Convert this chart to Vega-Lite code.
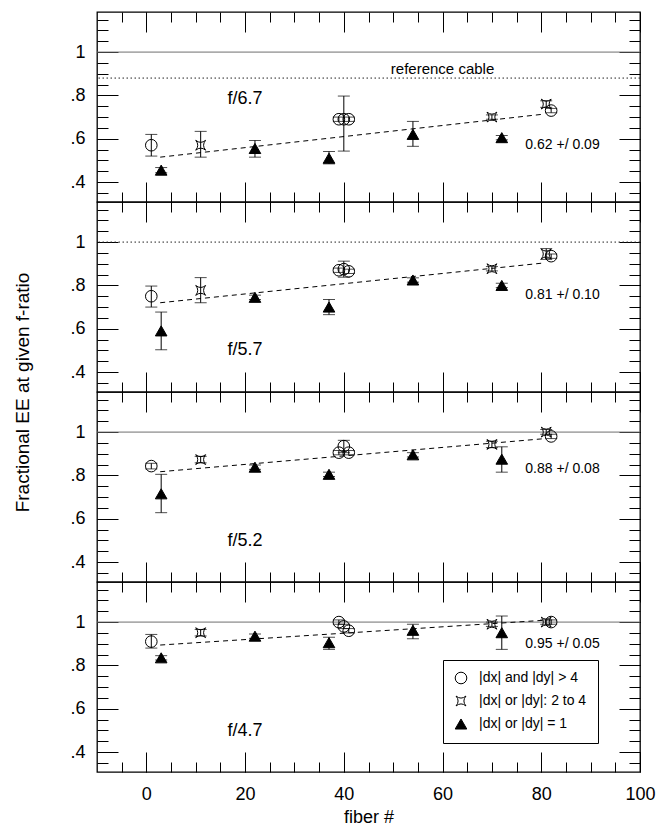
{
"$schema": "https://vega.github.io/schema/vega-lite/v6.json",
"background": "white",
"padding": {"left": 12, "top": 10, "right": 5, "bottom": 5},
"bounds": "flush",
"spacing": 0,
"config": {
  "font": "Liberation Sans",
  "view": {"stroke": "black", "strokeWidth": 1.3},
  "axis": {"domain": false, "grid": false, "tickColor": "black", "tickWidth": 1, "labelColor": "black", "labelFont": "Liberation Sans", "labelFontSize": 18, "titleFont": "Liberation Sans", "titleFontSize": 18, "titleFontWeight": "normal", "titleColor": "black", "labelFlush": false}
},
"resolve": {"scale": {"shape": "independent", "fill": "independent", "stroke": "independent", "strokeDash": "independent", "color": "independent"}},
"datasets": {
  "refs": [
    {"panel": 1, "frac": 1.0, "line": "unity"},
    {"panel": 1, "frac": 0.88, "line": "reference"},
    {"panel": 2, "frac": 1.0, "line": "reference"},
    {"panel": 3, "frac": 1.0, "line": "unity"},
    {"panel": 4, "frac": 1.0, "line": "unity"}
  ],
  "fits": [
    {"panel": 1, "fiber": 2.8, "frac": 0.515}, {"panel": 1, "fiber": 80.3, "frac": 0.713},
    {"panel": 2, "fiber": 2.8, "frac": 0.72}, {"panel": 2, "fiber": 80.3, "frac": 0.903},
    {"panel": 3, "fiber": 2.8, "frac": 0.817}, {"panel": 3, "fiber": 80.3, "frac": 0.969},
    {"panel": 4, "fiber": 2.8, "frac": 0.894}, {"panel": 4, "fiber": 80.3, "frac": 1.008}
  ],
  "notes": [
    {"panel": 1, "fiber": 20, "frac": 0.785, "label": "f/6.7", "kind": "fratio"},
    {"panel": 1, "fiber": 84.3, "frac": 0.571, "label": "0.62 +/ 0.09", "kind": "fit"},
    {"panel": 1, "fiber": 60, "frac": 0.923, "label": "reference cable", "kind": "ref"},
    {"panel": 2, "fiber": 20, "frac": 0.5, "label": "f/5.7", "kind": "fratio"},
    {"panel": 2, "fiber": 84.3, "frac": 0.754, "label": "0.81 +/ 0.10", "kind": "fit"},
    {"panel": 3, "fiber": 20, "frac": 0.497, "label": "f/5.2", "kind": "fratio"},
    {"panel": 3, "fiber": 84.3, "frac": 0.828, "label": "0.88 +/ 0.08", "kind": "fit"},
    {"panel": 4, "fiber": 20, "frac": 0.497, "label": "f/4.7", "kind": "fratio"},
    {"panel": 4, "fiber": 84.3, "frac": 0.897, "label": "0.95 +/ 0.05", "kind": "fit"}
  ],
  "points": [
    {"panel": 1, "fiber": 1, "frac": 0.57, "lo": 0.52, "hi": 0.62, "sel": "|dx| and |dy| > 4"},
    {"panel": 1, "fiber": 3, "frac": 0.455, "lo": 0.443, "hi": 0.467, "sel": "|dx| or |dy| = 1"},
    {"panel": 1, "fiber": 11, "frac": 0.57, "lo": 0.515, "hi": 0.634, "sel": "|dx| or |dy|: 2 to 4"},
    {"panel": 1, "fiber": 22, "frac": 0.555, "lo": 0.515, "hi": 0.592, "sel": "|dx| or |dy| = 1"},
    {"panel": 1, "fiber": 37, "frac": 0.51, "lo": 0.484, "hi": 0.541, "sel": "|dx| or |dy| = 1"},
    {"panel": 1, "fiber": 39, "frac": 0.69, "lo": 0.68, "hi": 0.7, "sel": "|dx| and |dy| > 4"},
    {"panel": 1, "fiber": 40, "frac": 0.69, "lo": 0.543, "hi": 0.797, "sel": "|dx| and |dy| > 4"},
    {"panel": 1, "fiber": 41, "frac": 0.69, "lo": 0.68, "hi": 0.7, "sel": "|dx| and |dy| > 4"},
    {"panel": 1, "fiber": 54, "frac": 0.62, "lo": 0.565, "hi": 0.68, "sel": "|dx| or |dy| = 1"},
    {"panel": 1, "fiber": 70, "frac": 0.7, "lo": 0.69, "hi": 0.71, "sel": "|dx| or |dy|: 2 to 4"},
    {"panel": 1, "fiber": 72, "frac": 0.605, "lo": 0.595, "hi": 0.615, "sel": "|dx| or |dy| = 1"},
    {"panel": 1, "fiber": 81, "frac": 0.76, "lo": 0.745, "hi": 0.775, "sel": "|dx| or |dy|: 2 to 4"},
    {"panel": 1, "fiber": 82, "frac": 0.73, "lo": 0.72, "hi": 0.74, "sel": "|dx| and |dy| > 4"},
    {"panel": 2, "fiber": 1, "frac": 0.75, "lo": 0.7, "hi": 0.797, "sel": "|dx| and |dy| > 4"},
    {"panel": 2, "fiber": 3, "frac": 0.59, "lo": 0.503, "hi": 0.677, "sel": "|dx| or |dy| = 1"},
    {"panel": 2, "fiber": 11, "frac": 0.777, "lo": 0.72, "hi": 0.836, "sel": "|dx| or |dy|: 2 to 4"},
    {"panel": 2, "fiber": 22, "frac": 0.745, "lo": 0.735, "hi": 0.755, "sel": "|dx| or |dy| = 1"},
    {"panel": 2, "fiber": 37, "frac": 0.7, "lo": 0.665, "hi": 0.735, "sel": "|dx| or |dy| = 1"},
    {"panel": 2, "fiber": 39, "frac": 0.87, "lo": 0.86, "hi": 0.88, "sel": "|dx| and |dy| > 4"},
    {"panel": 2, "fiber": 40, "frac": 0.875, "lo": 0.838, "hi": 0.912, "sel": "|dx| and |dy| > 4"},
    {"panel": 2, "fiber": 41, "frac": 0.865, "lo": 0.855, "hi": 0.875, "sel": "|dx| and |dy| > 4"},
    {"panel": 2, "fiber": 54, "frac": 0.825, "lo": 0.815, "hi": 0.835, "sel": "|dx| or |dy| = 1"},
    {"panel": 2, "fiber": 70, "frac": 0.877, "lo": 0.867, "hi": 0.887, "sel": "|dx| or |dy|: 2 to 4"},
    {"panel": 2, "fiber": 72, "frac": 0.8, "lo": 0.79, "hi": 0.81, "sel": "|dx| or |dy| = 1"},
    {"panel": 2, "fiber": 81, "frac": 0.945, "lo": 0.92, "hi": 0.97, "sel": "|dx| or |dy|: 2 to 4"},
    {"panel": 2, "fiber": 82, "frac": 0.935, "lo": 0.925, "hi": 0.945, "sel": "|dx| and |dy| > 4"},
    {"panel": 3, "fiber": 1, "frac": 0.843, "lo": 0.83, "hi": 0.856, "sel": "|dx| and |dy| > 4"},
    {"panel": 3, "fiber": 3, "frac": 0.715, "lo": 0.628, "hi": 0.805, "sel": "|dx| or |dy| = 1"},
    {"panel": 3, "fiber": 11, "frac": 0.873, "lo": 0.858, "hi": 0.888, "sel": "|dx| or |dy|: 2 to 4"},
    {"panel": 3, "fiber": 22, "frac": 0.838, "lo": 0.828, "hi": 0.848, "sel": "|dx| or |dy| = 1"},
    {"panel": 3, "fiber": 37, "frac": 0.805, "lo": 0.795, "hi": 0.815, "sel": "|dx| or |dy| = 1"},
    {"panel": 3, "fiber": 39, "frac": 0.905, "lo": 0.895, "hi": 0.915, "sel": "|dx| and |dy| > 4"},
    {"panel": 3, "fiber": 40, "frac": 0.935, "lo": 0.905, "hi": 0.962, "sel": "|dx| and |dy| > 4"},
    {"panel": 3, "fiber": 41, "frac": 0.905, "lo": 0.895, "hi": 0.915, "sel": "|dx| and |dy| > 4"},
    {"panel": 3, "fiber": 54, "frac": 0.895, "lo": 0.885, "hi": 0.905, "sel": "|dx| or |dy| = 1"},
    {"panel": 3, "fiber": 70, "frac": 0.943, "lo": 0.928, "hi": 0.958, "sel": "|dx| or |dy|: 2 to 4"},
    {"panel": 3, "fiber": 72, "frac": 0.875, "lo": 0.815, "hi": 0.932, "sel": "|dx| or |dy| = 1"},
    {"panel": 3, "fiber": 81, "frac": 1.0, "lo": 0.99, "hi": 1.012, "sel": "|dx| or |dy|: 2 to 4"},
    {"panel": 3, "fiber": 82, "frac": 0.98, "lo": 0.97, "hi": 0.99, "sel": "|dx| and |dy| > 4"},
    {"panel": 4, "fiber": 1, "frac": 0.91, "lo": 0.88, "hi": 0.943, "sel": "|dx| and |dy| > 4"},
    {"panel": 4, "fiber": 3, "frac": 0.835, "lo": 0.825, "hi": 0.845, "sel": "|dx| or |dy| = 1"},
    {"panel": 4, "fiber": 11, "frac": 0.951, "lo": 0.936, "hi": 0.966, "sel": "|dx| or |dy|: 2 to 4"},
    {"panel": 4, "fiber": 22, "frac": 0.935, "lo": 0.925, "hi": 0.945, "sel": "|dx| or |dy| = 1"},
    {"panel": 4, "fiber": 37, "frac": 0.905, "lo": 0.874, "hi": 0.93, "sel": "|dx| or |dy| = 1"},
    {"panel": 4, "fiber": 39, "frac": 1.0, "lo": 0.99, "hi": 1.01, "sel": "|dx| and |dy| > 4"},
    {"panel": 4, "fiber": 40, "frac": 0.98, "lo": 0.97, "hi": 0.99, "sel": "|dx| and |dy| > 4"},
    {"panel": 4, "fiber": 41, "frac": 0.96, "lo": 0.95, "hi": 0.97, "sel": "|dx| and |dy| > 4"},
    {"panel": 4, "fiber": 54, "frac": 0.962, "lo": 0.923, "hi": 0.99, "sel": "|dx| or |dy| = 1"},
    {"panel": 4, "fiber": 70, "frac": 0.99, "lo": 0.98, "hi": 1.0, "sel": "|dx| or |dy|: 2 to 4"},
    {"panel": 4, "fiber": 72, "frac": 0.951, "lo": 0.874, "hi": 1.028, "sel": "|dx| or |dy| = 1"},
    {"panel": 4, "fiber": 81, "frac": 1.0, "lo": 0.99, "hi": 1.01, "sel": "|dx| or |dy|: 2 to 4"},
    {"panel": 4, "fiber": 82, "frac": 1.0, "lo": 0.99, "hi": 1.01, "sel": "|dx| and |dy| > 4"}
  ]
},
"vconcat": [
{
  "width": 543, "height": 190,
  "resolve": {"axis": {"x": "independent", "y": "independent"}},
  "layer": [
    {"data": {"name": "refs"}, "transform": [{"filter": "datum.panel == 1"}],
     "mark": {"type": "rule", "strokeWidth": 1},
     "encoding": {
       "y": {"field": "frac", "type": "quantitative", "scale": {"domain": [0.308, 1.185], "nice": false, "zero": false}, "axis": {"orient": "left", "values": [0.4, 0.6, 0.8, 1], "labelExpr": "datum.value == 1 ? '1' : '.' + round(datum.value * 10)", "ticks": false, "labelPadding": 12, "title": null}},
       "strokeDash": {"field": "line", "type": "nominal", "scale": {"domain": ["unity", "reference"], "range": [[1, 0], [1.5, 2.5]]}, "legend": null},
       "color": {"field": "line", "type": "nominal", "scale": {"domain": ["unity", "reference"], "range": ["#6e6e6e", "#222222"]}, "legend": null}}},
    {"data": {"name": "fits"}, "transform": [{"filter": "datum.panel == 1"}],
     "mark": {"type": "line", "color": "black", "strokeWidth": 1, "strokeDash": [5, 4]},
     "encoding": {
       "x": {"field": "fiber", "type": "quantitative", "scale": {"domain": [-10, 100], "nice": false, "zero": false}, "axis": {"orient": "bottom", "values": [0, 20, 40, 60, 80, 100], "tickSize": -20, "labels": false, "title": null}},
       "y": {"field": "frac", "type": "quantitative", "scale": {"domain": [0.308, 1.185], "nice": false, "zero": false}, "axis": {"orient": "left", "values": [0.4, 0.6, 0.8, 1], "tickSize": -21, "labels": false, "title": null}}}},
    {"data": {"name": "points"}, "transform": [{"filter": "datum.panel == 1"}],
     "mark": {"type": "errorbar", "color": "black", "ticks": {"size": 12, "thickness": 1, "color": "black"}, "rule": {"strokeWidth": 1, "color": "black"}},
     "encoding": {
       "x": {"field": "fiber", "type": "quantitative", "scale": {"domain": [-10, 100], "nice": false, "zero": false}, "axis": null},
       "y": {"field": "lo", "type": "quantitative", "scale": {"domain": [0.308, 1.185], "nice": false, "zero": false}, "axis": null},
       "y2": {"field": "hi"}}},
    {"data": {"name": "points"}, "transform": [{"filter": "datum.panel == 1"}],
     "mark": {"type": "point", "filled": false, "color": "black", "strokeWidth": 1, "opacity": 1, "size": 135},
     "encoding": {
       "x": {"field": "fiber", "type": "quantitative", "scale": {"domain": [-10, 100], "nice": false, "zero": false}, "axis": {"orient": "top", "values": [0, 20, 40, 60, 80, 100], "tickSize": -20, "labels": false, "title": null}},
       "y": {"field": "frac", "type": "quantitative", "scale": {"domain": [0.308, 1.185], "nice": false, "zero": false}, "axis": {"orient": "right", "values": [0.4, 0.6, 0.8, 1], "tickSize": -21, "labels": false, "title": null}},
       "shape": {"field": "sel", "type": "nominal", "scale": {"domain": ["|dx| and |dy| > 4", "|dx| or |dy|: 2 to 4", "|dx| or |dy| = 1"], "range": ["circle", "M-0.85,-0.85Q0,-0.15,0.85,-0.85Q0.15,0,0.85,0.85Q0,0.15,-0.85,0.85Q-0.15,0,-0.85,-0.85Z", "triangle-up"]}, "legend": null},
       "fill": {"field": "sel", "type": "nominal", "scale": {"domain": ["|dx| and |dy| > 4", "|dx| or |dy|: 2 to 4", "|dx| or |dy| = 1"], "range": ["transparent", "transparent", "black"]}, "legend": null},
       "stroke": {"field": "sel", "type": "nominal", "scale": {"domain": ["|dx| and |dy| > 4", "|dx| or |dy|: 2 to 4", "|dx| or |dy| = 1"], "range": ["black", "black", "black"]}, "legend": null}}},
    {"data": {"name": "notes"}, "transform": [{"filter": "datum.panel == 1 && datum.kind == 'fratio'"}],
     "mark": {"type": "text", "fontSize": 18, "color": "black", "font": "Liberation Sans"},
     "encoding": {
       "x": {"field": "fiber", "type": "quantitative", "scale": {"domain": [-10, 100], "nice": false, "zero": false}, "axis": {"orient": "bottom", "values": [-5, 0, 5, 10, 15, 20, 25, 30, 35, 40, 45, 50, 55, 60, 65, 70, 75, 80, 85, 90, 95], "tickSize": -10, "labels": false, "title": null}},
       "y": {"field": "frac", "type": "quantitative", "scale": {"domain": [0.308, 1.185], "nice": false, "zero": false}, "axis": {"orient": "left", "values": [0.35, 0.4, 0.45, 0.5, 0.55, 0.6, 0.65, 0.7, 0.75, 0.8, 0.85, 0.9, 0.95, 1, 1.05, 1.1, 1.15], "tickSize": -11, "labels": false, "title": null}},
       "text": {"field": "label"}}},
    {"data": {"name": "notes"}, "transform": [{"filter": "datum.panel == 1 && datum.kind == 'fit'"}],
     "mark": {"type": "text", "fontSize": 14, "color": "black", "font": "Liberation Sans"},
     "encoding": {
       "x": {"field": "fiber", "type": "quantitative", "scale": {"domain": [-10, 100], "nice": false, "zero": false}, "axis": {"orient": "top", "values": [-5, 0, 5, 10, 15, 20, 25, 30, 35, 40, 45, 50, 55, 60, 65, 70, 75, 80, 85, 90, 95], "tickSize": -10, "labels": false, "title": null}},
       "y": {"field": "frac", "type": "quantitative", "scale": {"domain": [0.308, 1.185], "nice": false, "zero": false}, "axis": {"orient": "right", "values": [0.35, 0.4, 0.45, 0.5, 0.55, 0.6, 0.65, 0.7, 0.75, 0.8, 0.85, 0.9, 0.95, 1, 1.05, 1.1, 1.15], "tickSize": -11, "labels": false, "title": null}},
       "text": {"field": "label"}}},
    {"data": {"name": "notes"}, "transform": [{"filter": "datum.panel == 1 && datum.kind == 'ref'"}],
     "mark": {"type": "text", "fontSize": 15, "color": "black", "font": "Liberation Sans"},
     "encoding": {
       "x": {"field": "fiber", "type": "quantitative", "scale": {"domain": [-10, 100], "nice": false, "zero": false}, "axis": null},
       "y": {"field": "frac", "type": "quantitative", "scale": {"domain": [0.308, 1.185], "nice": false, "zero": false}, "axis": null},
       "text": {"field": "label"}}}
  ]
},
{
  "width": 543, "height": 190,
  "resolve": {"axis": {"x": "independent", "y": "independent"}},
  "layer": [
    {"data": {"name": "refs"}, "transform": [{"filter": "datum.panel == 2"}],
     "mark": {"type": "rule", "strokeWidth": 1},
     "encoding": {
       "y": {"field": "frac", "type": "quantitative", "scale": {"domain": [0.308, 1.185], "nice": false, "zero": false}, "axis": {"orient": "left", "values": [0.4, 0.6, 0.8, 1], "labelExpr": "datum.value == 1 ? '1' : '.' + round(datum.value * 10)", "ticks": false, "labelPadding": 12, "title": "Fractional EE at given f-ratio", "titleFontSize": 19, "titleY": 190, "titleX": -69, "titleBaseline": "alphabetic", "titleAlign": "center", "titleAngle": -90}},
       "strokeDash": {"field": "line", "type": "nominal", "scale": {"domain": ["unity", "reference"], "range": [[1, 0], [1.5, 2.5]]}, "legend": null},
       "color": {"field": "line", "type": "nominal", "scale": {"domain": ["unity", "reference"], "range": ["#6e6e6e", "#222222"]}, "legend": null}}},
    {"data": {"name": "fits"}, "transform": [{"filter": "datum.panel == 2"}],
     "mark": {"type": "line", "color": "black", "strokeWidth": 1, "strokeDash": [5, 4]},
     "encoding": {
       "x": {"field": "fiber", "type": "quantitative", "scale": {"domain": [-10, 100], "nice": false, "zero": false}, "axis": {"orient": "bottom", "values": [0, 20, 40, 60, 80, 100], "tickSize": -20, "labels": false, "title": null}},
       "y": {"field": "frac", "type": "quantitative", "scale": {"domain": [0.308, 1.185], "nice": false, "zero": false}, "axis": {"orient": "left", "values": [0.4, 0.6, 0.8, 1], "tickSize": -21, "labels": false, "title": null}}}},
    {"data": {"name": "points"}, "transform": [{"filter": "datum.panel == 2"}],
     "mark": {"type": "errorbar", "color": "black", "ticks": {"size": 12, "thickness": 1, "color": "black"}, "rule": {"strokeWidth": 1, "color": "black"}},
     "encoding": {
       "x": {"field": "fiber", "type": "quantitative", "scale": {"domain": [-10, 100], "nice": false, "zero": false}, "axis": null},
       "y": {"field": "lo", "type": "quantitative", "scale": {"domain": [0.308, 1.185], "nice": false, "zero": false}, "axis": null},
       "y2": {"field": "hi"}}},
    {"data": {"name": "points"}, "transform": [{"filter": "datum.panel == 2"}],
     "mark": {"type": "point", "filled": false, "color": "black", "strokeWidth": 1, "opacity": 1, "size": 135},
     "encoding": {
       "x": {"field": "fiber", "type": "quantitative", "scale": {"domain": [-10, 100], "nice": false, "zero": false}, "axis": {"orient": "top", "values": [0, 20, 40, 60, 80, 100], "tickSize": -20, "labels": false, "title": null}},
       "y": {"field": "frac", "type": "quantitative", "scale": {"domain": [0.308, 1.185], "nice": false, "zero": false}, "axis": {"orient": "right", "values": [0.4, 0.6, 0.8, 1], "tickSize": -21, "labels": false, "title": null}},
       "shape": {"field": "sel", "type": "nominal", "scale": {"domain": ["|dx| and |dy| > 4", "|dx| or |dy|: 2 to 4", "|dx| or |dy| = 1"], "range": ["circle", "M-0.85,-0.85Q0,-0.15,0.85,-0.85Q0.15,0,0.85,0.85Q0,0.15,-0.85,0.85Q-0.15,0,-0.85,-0.85Z", "triangle-up"]}, "legend": null},
       "fill": {"field": "sel", "type": "nominal", "scale": {"domain": ["|dx| and |dy| > 4", "|dx| or |dy|: 2 to 4", "|dx| or |dy| = 1"], "range": ["transparent", "transparent", "black"]}, "legend": null},
       "stroke": {"field": "sel", "type": "nominal", "scale": {"domain": ["|dx| and |dy| > 4", "|dx| or |dy|: 2 to 4", "|dx| or |dy| = 1"], "range": ["black", "black", "black"]}, "legend": null}}},
    {"data": {"name": "notes"}, "transform": [{"filter": "datum.panel == 2 && datum.kind == 'fratio'"}],
     "mark": {"type": "text", "fontSize": 18, "color": "black", "font": "Liberation Sans"},
     "encoding": {
       "x": {"field": "fiber", "type": "quantitative", "scale": {"domain": [-10, 100], "nice": false, "zero": false}, "axis": {"orient": "bottom", "values": [-5, 0, 5, 10, 15, 20, 25, 30, 35, 40, 45, 50, 55, 60, 65, 70, 75, 80, 85, 90, 95], "tickSize": -10, "labels": false, "title": null}},
       "y": {"field": "frac", "type": "quantitative", "scale": {"domain": [0.308, 1.185], "nice": false, "zero": false}, "axis": {"orient": "left", "values": [0.35, 0.4, 0.45, 0.5, 0.55, 0.6, 0.65, 0.7, 0.75, 0.8, 0.85, 0.9, 0.95, 1, 1.05, 1.1, 1.15], "tickSize": -11, "labels": false, "title": null}},
       "text": {"field": "label"}}},
    {"data": {"name": "notes"}, "transform": [{"filter": "datum.panel == 2 && datum.kind == 'fit'"}],
     "mark": {"type": "text", "fontSize": 14, "color": "black", "font": "Liberation Sans"},
     "encoding": {
       "x": {"field": "fiber", "type": "quantitative", "scale": {"domain": [-10, 100], "nice": false, "zero": false}, "axis": {"orient": "top", "values": [-5, 0, 5, 10, 15, 20, 25, 30, 35, 40, 45, 50, 55, 60, 65, 70, 75, 80, 85, 90, 95], "tickSize": -10, "labels": false, "title": null}},
       "y": {"field": "frac", "type": "quantitative", "scale": {"domain": [0.308, 1.185], "nice": false, "zero": false}, "axis": {"orient": "right", "values": [0.35, 0.4, 0.45, 0.5, 0.55, 0.6, 0.65, 0.7, 0.75, 0.8, 0.85, 0.9, 0.95, 1, 1.05, 1.1, 1.15], "tickSize": -11, "labels": false, "title": null}},
       "text": {"field": "label"}}}
  ]
},
{
  "width": 543, "height": 190,
  "resolve": {"axis": {"x": "independent", "y": "independent"}},
  "layer": [
    {"data": {"name": "refs"}, "transform": [{"filter": "datum.panel == 3"}],
     "mark": {"type": "rule", "strokeWidth": 1},
     "encoding": {
       "y": {"field": "frac", "type": "quantitative", "scale": {"domain": [0.308, 1.185], "nice": false, "zero": false}, "axis": {"orient": "left", "values": [0.4, 0.6, 0.8, 1], "labelExpr": "datum.value == 1 ? '1' : '.' + round(datum.value * 10)", "ticks": false, "labelPadding": 12, "title": null}},
       "strokeDash": {"field": "line", "type": "nominal", "scale": {"domain": ["unity", "reference"], "range": [[1, 0], [1.5, 2.5]]}, "legend": null},
       "color": {"field": "line", "type": "nominal", "scale": {"domain": ["unity", "reference"], "range": ["#6e6e6e", "#222222"]}, "legend": null}}},
    {"data": {"name": "fits"}, "transform": [{"filter": "datum.panel == 3"}],
     "mark": {"type": "line", "color": "black", "strokeWidth": 1, "strokeDash": [5, 4]},
     "encoding": {
       "x": {"field": "fiber", "type": "quantitative", "scale": {"domain": [-10, 100], "nice": false, "zero": false}, "axis": {"orient": "bottom", "values": [0, 20, 40, 60, 80, 100], "tickSize": -20, "labels": false, "title": null}},
       "y": {"field": "frac", "type": "quantitative", "scale": {"domain": [0.308, 1.185], "nice": false, "zero": false}, "axis": {"orient": "left", "values": [0.4, 0.6, 0.8, 1], "tickSize": -21, "labels": false, "title": null}}}},
    {"data": {"name": "points"}, "transform": [{"filter": "datum.panel == 3"}],
     "mark": {"type": "errorbar", "color": "black", "ticks": {"size": 12, "thickness": 1, "color": "black"}, "rule": {"strokeWidth": 1, "color": "black"}},
     "encoding": {
       "x": {"field": "fiber", "type": "quantitative", "scale": {"domain": [-10, 100], "nice": false, "zero": false}, "axis": null},
       "y": {"field": "lo", "type": "quantitative", "scale": {"domain": [0.308, 1.185], "nice": false, "zero": false}, "axis": null},
       "y2": {"field": "hi"}}},
    {"data": {"name": "points"}, "transform": [{"filter": "datum.panel == 3"}],
     "mark": {"type": "point", "filled": false, "color": "black", "strokeWidth": 1, "opacity": 1, "size": 135},
     "encoding": {
       "x": {"field": "fiber", "type": "quantitative", "scale": {"domain": [-10, 100], "nice": false, "zero": false}, "axis": {"orient": "top", "values": [0, 20, 40, 60, 80, 100], "tickSize": -20, "labels": false, "title": null}},
       "y": {"field": "frac", "type": "quantitative", "scale": {"domain": [0.308, 1.185], "nice": false, "zero": false}, "axis": {"orient": "right", "values": [0.4, 0.6, 0.8, 1], "tickSize": -21, "labels": false, "title": null}},
       "shape": {"field": "sel", "type": "nominal", "scale": {"domain": ["|dx| and |dy| > 4", "|dx| or |dy|: 2 to 4", "|dx| or |dy| = 1"], "range": ["circle", "M-0.85,-0.85Q0,-0.15,0.85,-0.85Q0.15,0,0.85,0.85Q0,0.15,-0.85,0.85Q-0.15,0,-0.85,-0.85Z", "triangle-up"]}, "legend": null},
       "fill": {"field": "sel", "type": "nominal", "scale": {"domain": ["|dx| and |dy| > 4", "|dx| or |dy|: 2 to 4", "|dx| or |dy| = 1"], "range": ["transparent", "transparent", "black"]}, "legend": null},
       "stroke": {"field": "sel", "type": "nominal", "scale": {"domain": ["|dx| and |dy| > 4", "|dx| or |dy|: 2 to 4", "|dx| or |dy| = 1"], "range": ["black", "black", "black"]}, "legend": null}}},
    {"data": {"name": "notes"}, "transform": [{"filter": "datum.panel == 3 && datum.kind == 'fratio'"}],
     "mark": {"type": "text", "fontSize": 18, "color": "black", "font": "Liberation Sans"},
     "encoding": {
       "x": {"field": "fiber", "type": "quantitative", "scale": {"domain": [-10, 100], "nice": false, "zero": false}, "axis": {"orient": "bottom", "values": [-5, 0, 5, 10, 15, 20, 25, 30, 35, 40, 45, 50, 55, 60, 65, 70, 75, 80, 85, 90, 95], "tickSize": -10, "labels": false, "title": null}},
       "y": {"field": "frac", "type": "quantitative", "scale": {"domain": [0.308, 1.185], "nice": false, "zero": false}, "axis": {"orient": "left", "values": [0.35, 0.4, 0.45, 0.5, 0.55, 0.6, 0.65, 0.7, 0.75, 0.8, 0.85, 0.9, 0.95, 1, 1.05, 1.1, 1.15], "tickSize": -11, "labels": false, "title": null}},
       "text": {"field": "label"}}},
    {"data": {"name": "notes"}, "transform": [{"filter": "datum.panel == 3 && datum.kind == 'fit'"}],
     "mark": {"type": "text", "fontSize": 14, "color": "black", "font": "Liberation Sans"},
     "encoding": {
       "x": {"field": "fiber", "type": "quantitative", "scale": {"domain": [-10, 100], "nice": false, "zero": false}, "axis": {"orient": "top", "values": [-5, 0, 5, 10, 15, 20, 25, 30, 35, 40, 45, 50, 55, 60, 65, 70, 75, 80, 85, 90, 95], "tickSize": -10, "labels": false, "title": null}},
       "y": {"field": "frac", "type": "quantitative", "scale": {"domain": [0.308, 1.185], "nice": false, "zero": false}, "axis": {"orient": "right", "values": [0.35, 0.4, 0.45, 0.5, 0.55, 0.6, 0.65, 0.7, 0.75, 0.8, 0.85, 0.9, 0.95, 1, 1.05, 1.1, 1.15], "tickSize": -11, "labels": false, "title": null}},
       "text": {"field": "label"}}}
  ]
},
{
  "width": 543, "height": 190,
  "resolve": {"axis": {"x": "independent", "y": "independent"}},
  "layer": [
    {"data": {"name": "refs"}, "transform": [{"filter": "datum.panel == 4"}],
     "mark": {"type": "rule", "strokeWidth": 1},
     "encoding": {
       "y": {"field": "frac", "type": "quantitative", "scale": {"domain": [0.308, 1.185], "nice": false, "zero": false}, "axis": {"orient": "left", "values": [0.4, 0.6, 0.8, 1], "labelExpr": "datum.value == 1 ? '1' : '.' + round(datum.value * 10)", "ticks": false, "labelPadding": 12, "title": null}},
       "strokeDash": {"field": "line", "type": "nominal", "scale": {"domain": ["unity", "reference"], "range": [[1, 0], [1.5, 2.5]]}, "legend": null},
       "color": {"field": "line", "type": "nominal", "scale": {"domain": ["unity", "reference"], "range": ["#6e6e6e", "#222222"]}, "legend": null}}},
    {"data": {"name": "fits"}, "transform": [{"filter": "datum.panel == 4"}],
     "mark": {"type": "line", "color": "black", "strokeWidth": 1, "strokeDash": [5, 4]},
     "encoding": {
       "x": {"field": "fiber", "type": "quantitative", "scale": {"domain": [-10, 100], "nice": false, "zero": false}, "axis": {"orient": "bottom", "values": [0, 20, 40, 60, 80, 100], "tickSize": -20, "labelPadding": 33, "title": "fiber #", "titlePadding": 5}},
       "y": {"field": "frac", "type": "quantitative", "scale": {"domain": [0.308, 1.185], "nice": false, "zero": false}, "axis": {"orient": "left", "values": [0.4, 0.6, 0.8, 1], "tickSize": -21, "labels": false, "title": null}}}},
    {"data": {"name": "points"}, "transform": [{"filter": "datum.panel == 4"}],
     "mark": {"type": "errorbar", "color": "black", "ticks": {"size": 12, "thickness": 1, "color": "black"}, "rule": {"strokeWidth": 1, "color": "black"}},
     "encoding": {
       "x": {"field": "fiber", "type": "quantitative", "scale": {"domain": [-10, 100], "nice": false, "zero": false}, "axis": null},
       "y": {"field": "lo", "type": "quantitative", "scale": {"domain": [0.308, 1.185], "nice": false, "zero": false}, "axis": null},
       "y2": {"field": "hi"}}},
    {"data": {"name": "points"}, "transform": [{"filter": "datum.panel == 4"}],
     "mark": {"type": "point", "filled": false, "color": "black", "strokeWidth": 1, "opacity": 1, "size": 135},
     "encoding": {
       "x": {"field": "fiber", "type": "quantitative", "scale": {"domain": [-10, 100], "nice": false, "zero": false}, "axis": {"orient": "top", "values": [0, 20, 40, 60, 80, 100], "tickSize": -20, "labels": false, "title": null}},
       "y": {"field": "frac", "type": "quantitative", "scale": {"domain": [0.308, 1.185], "nice": false, "zero": false}, "axis": {"orient": "right", "values": [0.4, 0.6, 0.8, 1], "tickSize": -21, "labels": false, "title": null}},
       "shape": {"field": "sel", "type": "nominal", "scale": {"domain": ["|dx| and |dy| > 4", "|dx| or |dy|: 2 to 4", "|dx| or |dy| = 1"], "range": ["circle", "M-0.85,-0.85Q0,-0.15,0.85,-0.85Q0.15,0,0.85,0.85Q0,0.15,-0.85,0.85Q-0.15,0,-0.85,-0.85Z", "triangle-up"]},
         "legend": {"orient": "none", "legendX": 346, "legendY": 78, "title": null, "direction": "vertical", "strokeColor": "black", "fillColor": "white", "padding": 11, "rowPadding": 8, "labelFontSize": 14, "labelFont": "Liberation Sans", "labelColor": "black", "labelOffset": 11, "symbolSize": 135, "symbolStrokeWidth": 1}},
       "fill": {"field": "sel", "type": "nominal", "scale": {"domain": ["|dx| and |dy| > 4", "|dx| or |dy|: 2 to 4", "|dx| or |dy| = 1"], "range": ["transparent", "transparent", "black"]},
         "legend": {"orient": "none", "legendX": 346, "legendY": 78, "title": null, "direction": "vertical", "strokeColor": "black", "fillColor": "white", "padding": 11, "rowPadding": 8, "labelFontSize": 14, "labelFont": "Liberation Sans", "labelColor": "black", "labelOffset": 11, "symbolSize": 135, "symbolStrokeWidth": 1}},
       "stroke": {"field": "sel", "type": "nominal", "scale": {"domain": ["|dx| and |dy| > 4", "|dx| or |dy|: 2 to 4", "|dx| or |dy| = 1"], "range": ["black", "black", "black"]},
         "legend": {"orient": "none", "legendX": 346, "legendY": 78, "title": null, "direction": "vertical", "strokeColor": "black", "fillColor": "white", "padding": 11, "rowPadding": 8, "labelFontSize": 14, "labelFont": "Liberation Sans", "labelColor": "black", "labelOffset": 11, "symbolSize": 135, "symbolStrokeWidth": 1}}}},
    {"data": {"name": "notes"}, "transform": [{"filter": "datum.panel == 4 && datum.kind == 'fratio'"}],
     "mark": {"type": "text", "fontSize": 18, "color": "black", "font": "Liberation Sans"},
     "encoding": {
       "x": {"field": "fiber", "type": "quantitative", "scale": {"domain": [-10, 100], "nice": false, "zero": false}, "axis": {"orient": "bottom", "values": [-5, 0, 5, 10, 15, 20, 25, 30, 35, 40, 45, 50, 55, 60, 65, 70, 75, 80, 85, 90, 95], "tickSize": -10, "labels": false, "title": null}},
       "y": {"field": "frac", "type": "quantitative", "scale": {"domain": [0.308, 1.185], "nice": false, "zero": false}, "axis": {"orient": "left", "values": [0.35, 0.4, 0.45, 0.5, 0.55, 0.6, 0.65, 0.7, 0.75, 0.8, 0.85, 0.9, 0.95, 1, 1.05, 1.1, 1.15], "tickSize": -11, "labels": false, "title": null}},
       "text": {"field": "label"}}},
    {"data": {"name": "notes"}, "transform": [{"filter": "datum.panel == 4 && datum.kind == 'fit'"}],
     "mark": {"type": "text", "fontSize": 14, "color": "black", "font": "Liberation Sans"},
     "encoding": {
       "x": {"field": "fiber", "type": "quantitative", "scale": {"domain": [-10, 100], "nice": false, "zero": false}, "axis": {"orient": "top", "values": [-5, 0, 5, 10, 15, 20, 25, 30, 35, 40, 45, 50, 55, 60, 65, 70, 75, 80, 85, 90, 95], "tickSize": -10, "labels": false, "title": null}},
       "y": {"field": "frac", "type": "quantitative", "scale": {"domain": [0.308, 1.185], "nice": false, "zero": false}, "axis": {"orient": "right", "values": [0.35, 0.4, 0.45, 0.5, 0.55, 0.6, 0.65, 0.7, 0.75, 0.8, 0.85, 0.9, 0.95, 1, 1.05, 1.1, 1.15], "tickSize": -11, "labels": false, "title": null}},
       "text": {"field": "label"}}}
  ]
}
]
}
